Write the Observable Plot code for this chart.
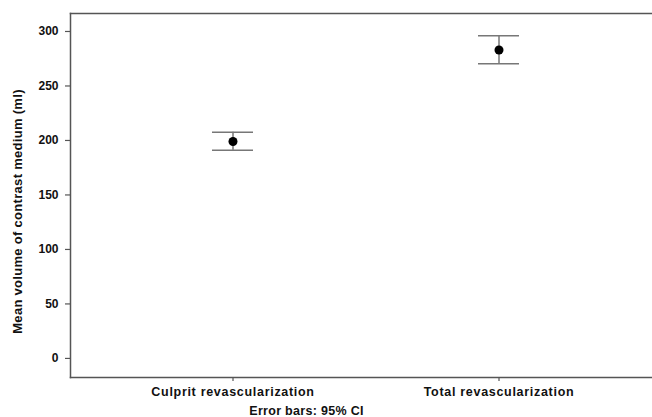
<!DOCTYPE html>
<html>
<head>
<meta charset="utf-8">
<script src="https://cdn.jsdelivr.net/npm/d3@7"></script>
<script src="https://cdn.jsdelivr.net/npm/@observablehq/plot@0.6"></script>
<style>
  html, body { margin: 0; padding: 0; background: white; overflow: hidden; }
  g[aria-label="x-axis tick label"] text { letter-spacing: 0.7px; }
  g[aria-label="text"] text { letter-spacing: 0.3px; }
</style>
</head>
<body>
<div id="chart"></div>
<script>
const groups = ["Culprit revascularization", "Total revascularization"];
const means = [199, 283];
const lower = [191, 270.5];
const upper = [207.5, 296];
const yTicks = [0, 50, 100, 150, 200, 250, 300];
const yLabel = "Mean volume of contrast medium (ml)";
const caption = "Error bars: 95% CI";

const data = groups.map((g, i) => ({group: g, mean: means[i], lower: lower[i], upper: upper[i]}));

const frameStyle = {stroke: "#555", strokeWidth: 1.5};

const chart = Plot.plot({
  width: 652,
  height: 417,
  marginLeft: 70,
  marginRight: 0,
  marginTop: 13,
  marginBottom: 40,
  style: {fontFamily: "'Liberation Sans', Arial, sans-serif", fontSize: "12px", fontWeight: "bold", color: "#111", background: "white"},
  x: {type: "band", domain: groups, paddingInner: 0.846, paddingOuter: 0.515, align: 0.517, label: null},
  y: {domain: [-17.5, 316.5], label: null},
  marks: [
    Plot.frame({anchor: "left", ...frameStyle}),
    Plot.frame({anchor: "top", ...frameStyle}),
    Plot.frame({anchor: "bottom", ...frameStyle}),
    Plot.axisY({ticks: yTicks, tickSize: 5, tickPadding: 7, label: null, stroke: "#555", strokeWidth: 1.2}),
    Plot.axisX({tickSize: 4, tickPadding: 6, label: null, stroke: "#555", strokeWidth: 1.2, fontSize: 12.5}),
    Plot.ruleX(data, {x: "group", y1: "lower", y2: "upper", stroke: "#777", strokeWidth: 1.5}),
    Plot.tickY(data, {x: "group", y: "lower", stroke: "#777", strokeWidth: 1.5}),
    Plot.tickY(data, {x: "group", y: "upper", stroke: "#777", strokeWidth: 1.5}),
    Plot.dot(data, {x: "group", y: "mean", r: 4.5, fill: "black", stroke: "none"}),
    Plot.text([yLabel], {text: d => d, frameAnchor: "left", textAnchor: "middle", lineAnchor: "middle", rotate: -90, dx: -53, dy: 16, fontSize: 13, fill: "#111"}),
    Plot.text([caption], {text: d => d, frameAnchor: "bottom", textAnchor: "middle", lineAnchor: "middle", dx: -55, dy: 33, fontSize: 12.5, fill: "#111"})
  ]
});
document.getElementById("chart").appendChild(chart);
</script>
</body>
</html>
